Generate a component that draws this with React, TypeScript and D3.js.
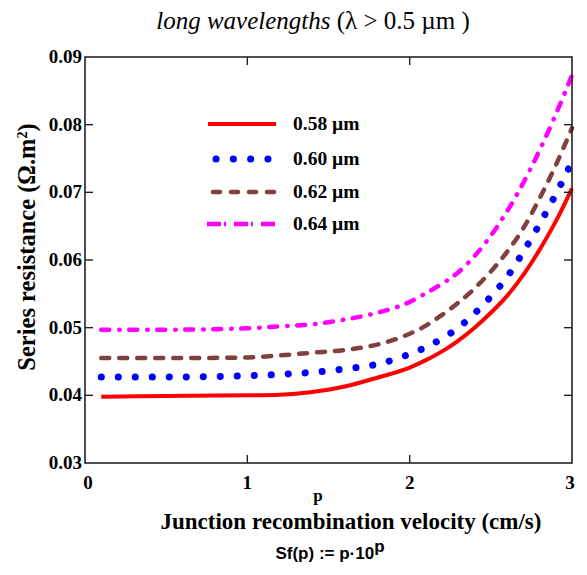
import { useMemo } from 'react'
import * as d3 from 'd3'

const WIDTH = 587
const HEIGHT = 575
const MARGIN = { top: 57, right: 15, bottom: 112, left: 85 }

// p values (x axis), Sf(p) = p·10^p
const pValues = [0.1, 0.5, 1.0, 1.2, 1.4, 1.6, 1.8, 2.0, 2.1, 2.2, 2.3, 2.4, 2.5, 2.6, 2.7, 2.8, 2.9, 3.0]

// series resistance (Ω.m²)
const rs058 = [0.0398, 0.0399, 0.04, 0.0401, 0.0405, 0.0413, 0.0426, 0.0441, 0.0452, 0.0465, 0.0481, 0.05, 0.0522, 0.0547, 0.0578, 0.0615, 0.0657, 0.0706]
const rs060 = [0.0427, 0.0427, 0.0429, 0.0431, 0.0434, 0.0439, 0.0446, 0.0461, 0.0471, 0.0484, 0.05, 0.0521, 0.0546, 0.0575, 0.0612, 0.0653, 0.0697, 0.0745]
const rs062 = [0.0455, 0.0455, 0.0456, 0.0459, 0.0463, 0.0467, 0.0475, 0.0491, 0.0503, 0.0519, 0.0537, 0.0558, 0.0583, 0.0612, 0.0647, 0.0691, 0.074, 0.0795]
const rs064 = [0.0497, 0.0497, 0.0499, 0.0502, 0.0505, 0.0512, 0.0522, 0.0538, 0.0551, 0.0565, 0.0582, 0.0606, 0.0636, 0.0672, 0.0714, 0.0762, 0.0815, 0.0873]

const legendLabels = ['0.58 µm', '0.60 µm', '0.62 µm', '0.64 µm']
const xTicks = [0, 1, 2, 3]
const yTicks = [0.03, 0.04, 0.05, 0.06, 0.07, 0.08, 0.09]

const SERIF = '"Liberation Serif", "Times New Roman", serif'
const SANS = '"Liberation Sans", Arial, sans-serif'

// stroke styles for each curve
const STYLES = [
  { stroke: '#ff0000', width: 4, dash: undefined, cap: 'butt' },
  { stroke: '#0000ff', width: 7, dash: '0.1 16.9', cap: 'round' },
  { stroke: '#804040', width: 4.5, dash: '8 10', cap: 'round' },
  { stroke: '#ff00ff', width: 4.5, dash: '8 10 0.5 9.5', cap: 'round' },
]

// legend sample lines: start, end, dash pattern, cap
const LEGEND_LINES = [
  { x1: 208, x2: 276, dash: undefined, cap: 'butt' },
  { x1: 216, x2: 269, dash: '0.1 17.2', cap: 'round' },
  { x1: 213, x2: 274, dash: '7 11', cap: 'round' },
  { x1: 207, x2: 275, dash: '14 3 2 8', cap: 'butt' },
]

export default function App() {
  const boundsWidth = WIDTH - MARGIN.left - MARGIN.right
  const boundsHeight = HEIGHT - MARGIN.top - MARGIN.bottom

  const xScale = useMemo(() => d3.scaleLinear().domain([0, 3]).range([0, boundsWidth]), [boundsWidth])
  const yScale = useMemo(() => d3.scaleLinear().domain([0.03, 0.09]).range([boundsHeight, 0]), [boundsHeight])

  const series = [rs058, rs060, rs062, rs064]
  const lineGen = d3
    .line<number>()
    .x((_, i) => xScale(pValues[i]))
    .y((d) => yScale(d))
    .curve(d3.curveMonotoneX)

  const legendY = [124, 159, 192, 224]
  const TICK = 8

  return (
    <svg width={WIDTH} height={HEIGHT} style={{ position: 'absolute', left: 0, top: 0, background: 'white' }}>
      {/* title */}
      <text x={313} y={29} textAnchor="middle" style={{ fontFamily: SERIF, fontSize: '25px' }}>
        <tspan fontStyle="italic">long wavelengths</tspan>
        <tspan> (λ &gt; 0.5 µm )</tspan>
      </text>

      <g transform={`translate(${MARGIN.left},${MARGIN.top})`}>
        {/* curves */}
        {series.map((s, i) => (
          <path
            key={i}
            d={lineGen(s) || ''}
            fill="none"
            stroke={STYLES[i].stroke}
            strokeWidth={STYLES[i].width}
            strokeDasharray={STYLES[i].dash}
            strokeLinecap={STYLES[i].cap as any}
            strokeLinejoin="round"
          />
        ))}

        {/* frame */}
        <rect x={0} y={0} width={boundsWidth} height={boundsHeight} fill="none" stroke="#222" strokeWidth={1.6} />

        {/* x ticks top and bottom */}
        {xTicks.slice(1, -1).map((t) => (
          <g key={'xt' + t}>
            <line x1={xScale(t)} x2={xScale(t)} y1={boundsHeight} y2={boundsHeight - TICK} stroke="#222" strokeWidth={1.4} />
            <line x1={xScale(t)} x2={xScale(t)} y1={0} y2={TICK} stroke="#222" strokeWidth={1.4} />
          </g>
        ))}
        {xTicks.map((t) => (
          <text
            key={'xl' + t}
            x={xScale(t) + (t === 0 ? 3 : t === 3 ? -2 : 0)}
            y={boundsHeight + 26}
            textAnchor="middle"
            style={{ fontFamily: SERIF, fontSize: '19px', fontWeight: 'bold' }}
          >
            {t}
          </text>
        ))}

        {/* y ticks left and right */}
        {yTicks.slice(1, -1).map((t) => (
          <g key={'yt' + t}>
            <line x1={0} x2={TICK} y1={yScale(t)} y2={yScale(t)} stroke="#222" strokeWidth={1.4} />
            <line x1={boundsWidth} x2={boundsWidth - TICK} y1={yScale(t)} y2={yScale(t)} stroke="#222" strokeWidth={1.4} />
          </g>
        ))}
        {yTicks.map((t) => (
          <text
            key={'yl' + t}
            x={-3}
            y={yScale(t) + 6}
            textAnchor="end"
            style={{ fontFamily: SERIF, fontSize: '19px', fontWeight: 'bold' }}
          >
            {t.toFixed(2)}
          </text>
        ))}
      </g>

      {/* legend */}
      {legendLabels.map((lab, i) => (
        <g key={lab}>
          <line
            x1={LEGEND_LINES[i].x1}
            x2={LEGEND_LINES[i].x2}
            y1={legendY[i]}
            y2={legendY[i]}
            stroke={STYLES[i].stroke}
            strokeWidth={STYLES[i].width}
            strokeDasharray={LEGEND_LINES[i].dash}
            strokeLinecap={LEGEND_LINES[i].cap as any}
          />
          <text x={293} y={legendY[i] + 6} style={{ fontFamily: SERIF, fontSize: '19.5px', fontWeight: 'bold' }}>
            {lab}
          </text>
        </g>
      ))}

      {/* axis labels */}
      <text
        transform={`translate(35,247) rotate(-90)`}
        textAnchor="middle"
        style={{ fontFamily: SERIF, fontSize: '24.5px', fontWeight: 'bold' }}
      >
        Series resistance (Ω.m<tspan dy={-8} fontSize="14px">2</tspan>
        <tspan dy={8}>)</tspan>
      </text>
      <text x={318} y={501} textAnchor="middle" style={{ fontFamily: SERIF, fontSize: '17px', fontWeight: 'bold' }}>
        p
      </text>
      <text x={351} y={529} textAnchor="middle" style={{ fontFamily: SERIF, fontSize: '23px', fontWeight: 'bold' }}>
        Junction recombination velocity (cm/s)
      </text>
      <text x={330} y={559} textAnchor="middle" style={{ fontFamily: SANS, fontSize: '17px', fontWeight: 'bold' }}>
        Sf(p) := p·10<tspan dy={-7}>p</tspan>
      </text>
    </svg>
  )
}
